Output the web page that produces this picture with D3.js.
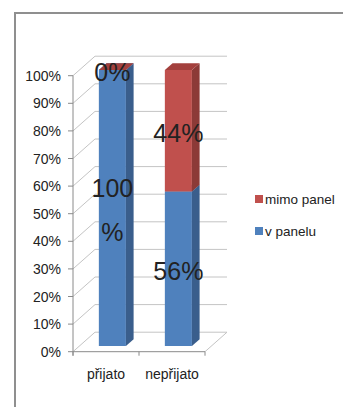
<!DOCTYPE html>
<html>
<head>
<meta charset="utf-8">
<script src="https://cdn.jsdelivr.net/npm/d3@7"></script>
<style>
  html, body { margin: 0; padding: 0; background: #fff; }
  svg { display: block; }
  text { font-family: "Liberation Sans", Arial, sans-serif; fill: #222; }
</style>
</head>
<body>
<svg id="chart" width="343" height="407"></svg>
<script>
// Categories, series and their values (percent)
const categories = ["přijato", "nepřijato"];
const seriesNames = ["v panelu", "mimo panel"];
const vPanelu = [100, 56];
const mimoPanel = [0, 44];
const yTicks = [0, 10, 20, 30, 40, 50, 60, 70, 80, 90, 100];

// Colours per series: front, side, top faces
const palette = {
  "v panelu":   { front: "#4F81BD", side: "#3A5E8C", top: "#4470A6" },
  "mimo panel": { front: "#C0504D", side: "#8C3A37", top: "#A3403D" }
};

const svg = d3.select("#chart");

// Frame around the chart area
svg.append("rect")
  .attr("x", 15).attr("y", 13)
  .attr("width", 400).attr("height", 420)
  .attr("fill", "none").attr("stroke", "#8f8f8f").attr("stroke-width", 2);

// Plot geometry: front plane of the 3D box and the depth offset
const x0 = 73, x1 = 205;
const y = d3.scaleLinear().domain([0, 100]).range([351.7, 75.7]);
const x = d3.scaleBand().domain(categories).range([x0, x1]);
const DX = 22, DY = -19.5;
const proj = (px, py, z) => [px + z * DX, py + z * DY];

// Bars sit between these depth fractions, width as a fraction of the band
const zFront = 0.29, zBack = 0.64, barFrac = 0.41;

const grid = svg.append("g").attr("stroke", "#c4c4c4").attr("stroke-width", 1).attr("fill", "none");
const line = d3.line();

// Back wall and side wall gridlines
yTicks.forEach(t => {
  const yy = y(t);
  grid.append("path").attr("d", line([proj(x0, yy, 1), proj(x1, yy, 1)]));
  grid.append("path").attr("d", line([[x0, yy], proj(x0, yy, 1)]));
});
// Floor right edge
grid.append("path").attr("d", line([[x1, y(0)], proj(x1, y(0), 1)]));

// Stacked data
const table = categories.map((c, i) => ({ cat: c, "v panelu": vPanelu[i], "mimo panel": mimoPanel[i] }));
const stacked = d3.stack().keys(seriesNames)(table);

const bars = svg.append("g");
const poly = pts => "M" + pts.map(p => p.join(",")).join("L") + "Z";

categories.forEach((c, i) => {
  const bw = x.bandwidth() * barFrac;
  const bx = x(c) + (x.bandwidth() - bw) / 2;
  stacked.forEach(s => {
    const d = s[i];
    const col = palette[s.key];
    const yb = y(d[0]), yt = y(d[1]);
    // front face
    const fl = proj(bx, yb, zFront), fr = proj(bx + bw, yb, zFront);
    const tl = proj(bx, yt, zFront), tr = proj(bx + bw, yt, zFront);
    const brb = proj(bx + bw, yb, zBack), brt = proj(bx + bw, yt, zBack);
    const blt = proj(bx, yt, zBack);
    bars.append("path").attr("d", poly([fl, fr, tr, tl])).attr("fill", col.front);
    bars.append("path").attr("d", poly([fr, brb, brt, tr])).attr("fill", col.side);
    bars.append("path").attr("d", poly([tl, tr, brt, blt])).attr("fill", col.top);
  });
});

// Axes
const axis = svg.append("g").attr("stroke", "#8a8a8a").attr("stroke-width", 1).attr("fill", "none");
axis.append("path").attr("d", line([[x0, y(100)], [x0, y(0) + 4]]));
yTicks.forEach(t => axis.append("path").attr("d", line([[x0 - 5, y(t)], [x0, y(t)]])));
axis.append("path").attr("d", line([[x0, y(0)], [x1, y(0)]]));
[x0, x0 + x.step(), x1].forEach(px => axis.append("path").attr("d", line([[px, y(0)], [px, y(0) + 4]])));

// Y tick labels
svg.append("g").selectAll("text").data(yTicks).join("text")
  .attr("x", 61).attr("y", t => y(t) + 5)
  .attr("text-anchor", "end").attr("font-size", 14)
  .text(t => t + "%");

// Category labels
svg.append("g").selectAll("text").data(categories).join("text")
  .attr("x", c => x(c) + x.bandwidth() / 2).attr("y", 379)
  .attr("text-anchor", "middle").attr("font-size", 14)
  .text(c => c);

// Value labels centred on each segment's front face
const labels = svg.append("g");
categories.forEach((c, i) => {
  const bw = x.bandwidth() * barFrac;
  const cx = x(c) + x.bandwidth() / 2 + zFront * DX;
  stacked.forEach(s => {
    const d = s[i];
    const v = d[1] - d[0];
    const mid = (y(d[0]) + y(d[1])) / 2 + zFront * DY;
    // three-digit values break before the percent sign
    const lines = v >= 100 ? [String(v), "%"] : [v + "%"];
    const lh = 44;
    const t = labels.append("text").attr("text-anchor", "middle").attr("font-size", 25);
    lines.forEach((ln, k) => {
      t.append("tspan").attr("x", cx)
        .attr("y", mid + 11 + (k - (lines.length - 1) / 2) * lh)
        .text(ln);
    });
  });
});

// Legend (series listed top-down from the top of the stack)
const legend = svg.append("g");
const legendItems = seriesNames.slice().reverse();
legendItems.forEach((name, k) => {
  const ly = 195 + k * 32;
  legend.append("rect").attr("x", 255).attr("y", ly).attr("width", 8).attr("height", 8)
    .attr("fill", palette[name].front);
  legend.append("text").attr("x", 265).attr("y", ly + 8.5).attr("font-size", 13.5).text(name);
});
</script>
</body>
</html>
